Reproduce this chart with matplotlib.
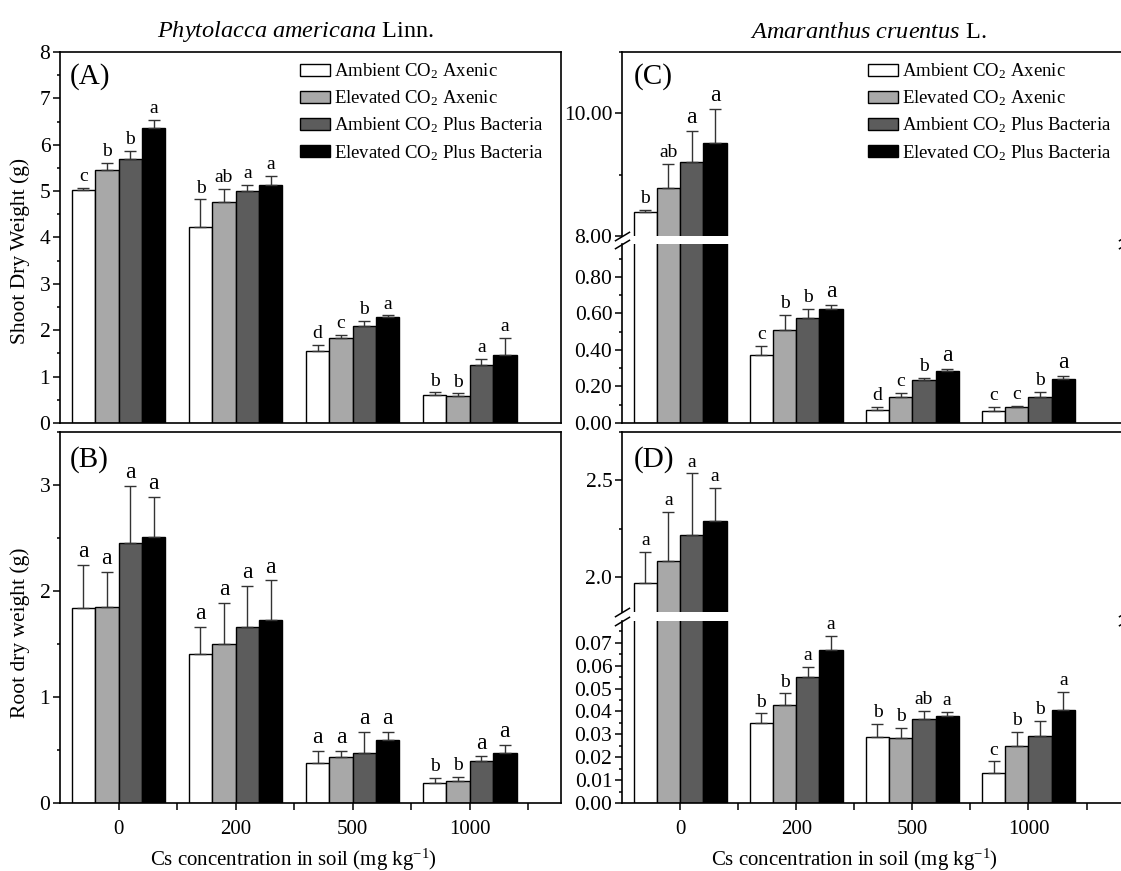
import matplotlib
matplotlib.use('Agg')
import matplotlib.pyplot as plt
from matplotlib.ticker import MultipleLocator, FormatStrFormatter, FixedLocator
import numpy as np

# ---------------- data ----------------
groups = ['0', '200', '500', '1000']
series = ['Ambient CO$_2$ Axenic', 'Elevated CO$_2$ Axenic',
          'Ambient CO$_2$ Plus Bacteria', 'Elevated CO$_2$ Plus Bacteria']

# (A) Phytolacca shoot dry weight (rows = series, cols = Cs groups)
shoot_pa = [[5.02, 4.22, 1.56, 0.61],
            [5.45, 4.77, 1.84, 0.59],
            [5.70, 5.00, 2.09, 1.25],
            [6.36, 5.13, 2.29, 1.47]]
shoot_pa_err = [[0.05, 0.60, 0.12, 0.05],
                [0.16, 0.27, 0.06, 0.05],
                [0.17, 0.14, 0.11, 0.13],
                [0.18, 0.20, 0.03, 0.36]]
shoot_pa_let = [['c', 'b', 'd', 'b'],
                ['b', 'ab', 'c', 'b'],
                ['b', 'a', 'b', 'a'],
                ['a', 'a', 'a', 'a']]

# (B) Phytolacca root dry weight
root_pa = [[1.84, 1.41, 0.38, 0.19],
           [1.85, 1.50, 0.43, 0.21],
           [2.45, 1.66, 0.47, 0.40],
           [2.51, 1.73, 0.59, 0.47]]
root_pa_err = [[0.41, 0.25, 0.11, 0.05],
               [0.33, 0.39, 0.06, 0.04],
               [0.54, 0.39, 0.20, 0.04],
               [0.38, 0.37, 0.08, 0.08]]
root_pa_let = [['a', 'a', 'a', 'b'],
               ['a', 'a', 'a', 'b'],
               ['a', 'a', 'a', 'a'],
               ['a', 'a', 'a', 'a']]

# (C) Amaranthus shoot dry weight
shoot_ac = [[8.39, 0.373, 0.073, 0.064],
            [8.78, 0.510, 0.142, 0.085],
            [9.20, 0.576, 0.236, 0.142],
            [9.52, 0.624, 0.287, 0.240]]
shoot_ac_err = [[0.03, 0.050, 0.014, 0.023],
                [0.39, 0.080, 0.022, 0.010],
                [0.52, 0.050, 0.013, 0.030],
                [0.55, 0.023, 0.011, 0.018]]
shoot_ac_let = [['b', 'c', 'd', 'c'],
                ['ab', 'b', 'c', 'c'],
                ['a', 'b', 'b', 'b'],
                ['a', 'a', 'a', 'a']]

# (D) Amaranthus root dry weight
root_ac = [[1.970, 0.0351, 0.0288, 0.0131],
           [2.086, 0.0428, 0.0286, 0.0250],
           [2.216, 0.0552, 0.0366, 0.0293],
           [2.290, 0.0668, 0.0378, 0.0407]]
root_ac_err = [[0.16, 0.0040, 0.0058, 0.0051],
               [0.25, 0.0051, 0.0041, 0.0060],
               [0.32, 0.0041, 0.0038, 0.0067],
               [0.17, 0.0061, 0.0020, 0.0080]]
root_ac_let = [['a', 'b', 'b', 'c'],
               ['a', 'b', 'b', 'b'],
               ['a', 'a', 'ab', 'b'],
               ['a', 'a', 'a', 'a']]

# ---------------- style ----------------
plt.rcParams.update({
    'font.family': ['Liberation Serif', 'DejaVu Serif'],
    'mathtext.fontset': 'custom',
    'mathtext.rm': 'Liberation Serif',
    'mathtext.it': 'Liberation Serif:italic',
    'mathtext.bf': 'Liberation Serif:bold',
    'axes.linewidth': 1.2,
})
colors = ['white', '#a8a8a8', '#5c5c5c', 'black']
W, H = 1121, 871
fig = plt.figure(figsize=(W / 100, H / 100), dpi=100)


def add_ax(x0, y0, x1, y1):
    return fig.add_axes([x0 / W, 1 - y1 / H, (x1 - x0) / W, (y1 - y0) / H])


def style_y(ax, major, minor, fmt):
    ax.yaxis.set_major_locator(MultipleLocator(major))
    ax.yaxis.set_minor_locator(MultipleLocator(minor))
    ax.yaxis.set_major_formatter(FormatStrFormatter(fmt))
    ax.tick_params(axis='y', which='major', direction='out', length=5, width=1.1,
                   labelsize=15.5, pad=2)
    ax.tick_params(axis='y', which='minor', direction='out', length=2.5, width=1.1)
    ax.tick_params(axis='x', which='both', bottom=False, labelbottom=False)


def style_x(ax):
    ax.xaxis.set_major_locator(FixedLocator(np.arange(len(groups))))
    ax.xaxis.set_minor_locator(FixedLocator(np.arange(len(groups)) + 0.5))
    ax.set_xticklabels(groups)
    ax.tick_params(axis='x', which='major', bottom=True, labelbottom=True,
                   direction='out', length=5, width=1.1, labelsize=15, pad=7)
    ax.tick_params(axis='x', which='minor', bottom=True, direction='out',
                   length=5, width=1.1)


def draw(ax, means, errs, xlim, ylim):
    x = np.arange(len(groups))
    w = 0.2
    for i in range(4):
        xs = x + (i - 1.5) * w
        ax.bar(xs, means[i], w, color=colors[i], edgecolor='black',
               linewidth=1.0, label=series[i], zorder=2)
        ax.errorbar(xs, means[i], yerr=[np.zeros(len(groups)), errs[i]],
                    fmt='none', ecolor='#333333', elinewidth=1.0, capsize=4,
                    capthick=1.0, zorder=3)
    ax.set_xlim(*xlim)
    ax.set_ylim(*ylim)


def letters(axes, means, errs, lets, big_a=False):
    x = np.arange(len(groups))
    w = 0.2
    for i in range(4):
        for j in range(len(groups)):
            top = means[i][j] + errs[i][j]
            for ax in axes:
                lo, hi = ax.get_ylim()
                if lo <= top <= hi:
                    l = lets[i][j]
                    fs = 17 if (big_a and l == 'a') else 14
                    ax.annotate(l, (x[j] + (i - 1.5) * w, top), xytext=(0, 2),
                                textcoords='offset points', ha='center',
                                va='bottom', fontsize=fs)
                    break


def break_marks(ax_up, ax_lo):
    kw = dict(marker=[(-1, -0.6), (1, 0.6)], markersize=11, linestyle='none',
              color='k', mec='k', mew=1.1, clip_on=False)
    ax_up.plot([0, 1], [0, 0], transform=ax_up.transAxes, **kw)
    ax_lo.plot([0, 1], [1, 1], transform=ax_lo.transAxes, **kw)


xl_left = (-0.5, 3.78)
xl_right = (-0.5, 3.84)

# Panel A
axA = add_ax(60, 52, 561, 423)
draw(axA, shoot_pa, shoot_pa_err, xl_left, (0, 8))
style_y(axA, 1, 0.5, '%d')
letters([axA], shoot_pa, shoot_pa_err, shoot_pa_let)

# Panel B
axB = add_ax(60, 432, 561, 803)
draw(axB, root_pa, root_pa_err, xl_left, (0, 3.5))
style_y(axB, 1, 0.5, '%d')
style_x(axB)
letters([axB], root_pa, root_pa_err, root_pa_let, big_a=True)

# Panel C (broken axis)
axCu = add_ax(622, 52, 1126, 236)
axCl = add_ax(622, 244, 1126, 423)
draw(axCu, shoot_ac, shoot_ac_err, xl_right, (8, 11))
draw(axCl, shoot_ac, shoot_ac_err, xl_right, (0, 0.98))
style_y(axCu, 2, 1, '%.2f')
style_y(axCl, 0.2, 0.1, '%.2f')
axCu.spines['bottom'].set_visible(False)
axCl.spines['top'].set_visible(False)
break_marks(axCu, axCl)
letters([axCu, axCl], shoot_ac, shoot_ac_err, shoot_ac_let, big_a=True)

# Panel D (broken axis)
axDu = add_ax(622, 432, 1126, 612)
axDl = add_ax(622, 621, 1126, 803)
draw(axDu, root_ac, root_ac_err, xl_right, (1.82, 2.75))
draw(axDl, root_ac, root_ac_err, xl_right, (0, 0.0795))
style_y(axDu, 0.5, 0.25, '%.1f')
style_y(axDl, 0.01, 0.005, '%.2f')
style_x(axDl)
axDu.spines['bottom'].set_visible(False)
axDl.spines['top'].set_visible(False)
break_marks(axDu, axDl)
letters([axDu, axDl], root_ac, root_ac_err, root_ac_let)

# Legends
leg_kw = dict(loc='upper left', frameon=False, fontsize=13.5, handlelength=1.6,
              handleheight=0.6, handletextpad=0.2, labelspacing=0.4,
              borderpad=0, borderaxespad=0)
axA.legend(bbox_to_anchor=(0.479, 0.975), **leg_kw)
axCu.legend(bbox_to_anchor=(0.488, 0.95), **leg_kw)

# Panel labels
for lab, (px, py) in {'(A)': (70, 77), '(B)': (70, 460),
                      '(C)': (634, 77), '(D)': (634, 460)}.items():
    fig.text(px / W, 1 - py / H, lab, fontsize=21, ha='left', va='center')

# Titles
fig.text(296 / W, 1 - 32 / H, r'$\mathit{Phytolacca\ americana}$ Linn.',
         fontsize=17.5, ha='center', va='center')
fig.text(868 / W, 1 - 32 / H, r'$\mathit{Amaranthus\ cruentus}$ L.',
         fontsize=17.5, ha='center', va='center')

# Axis labels
fig.text(20 / W, 1 - 251 / H, 'Shoot Dry Weight (g)', rotation=90,
         fontsize=15.5, ha='center', va='center')
fig.text(20 / W, 1 - 633 / H, 'Root dry weight (g)', rotation=90,
         fontsize=15.5, ha='center', va='center')
fig.text(293 / W, 1 - 860 / H, 'Cs concentration in soil (mg kg$^{-1}$)',
         fontsize=15, ha='center', va='center')
fig.text(854 / W, 1 - 860 / H, 'Cs concentration in soil (mg kg$^{-1}$)',
         fontsize=15, ha='center', va='center')

fig.savefig('out.png', dpi=100)
